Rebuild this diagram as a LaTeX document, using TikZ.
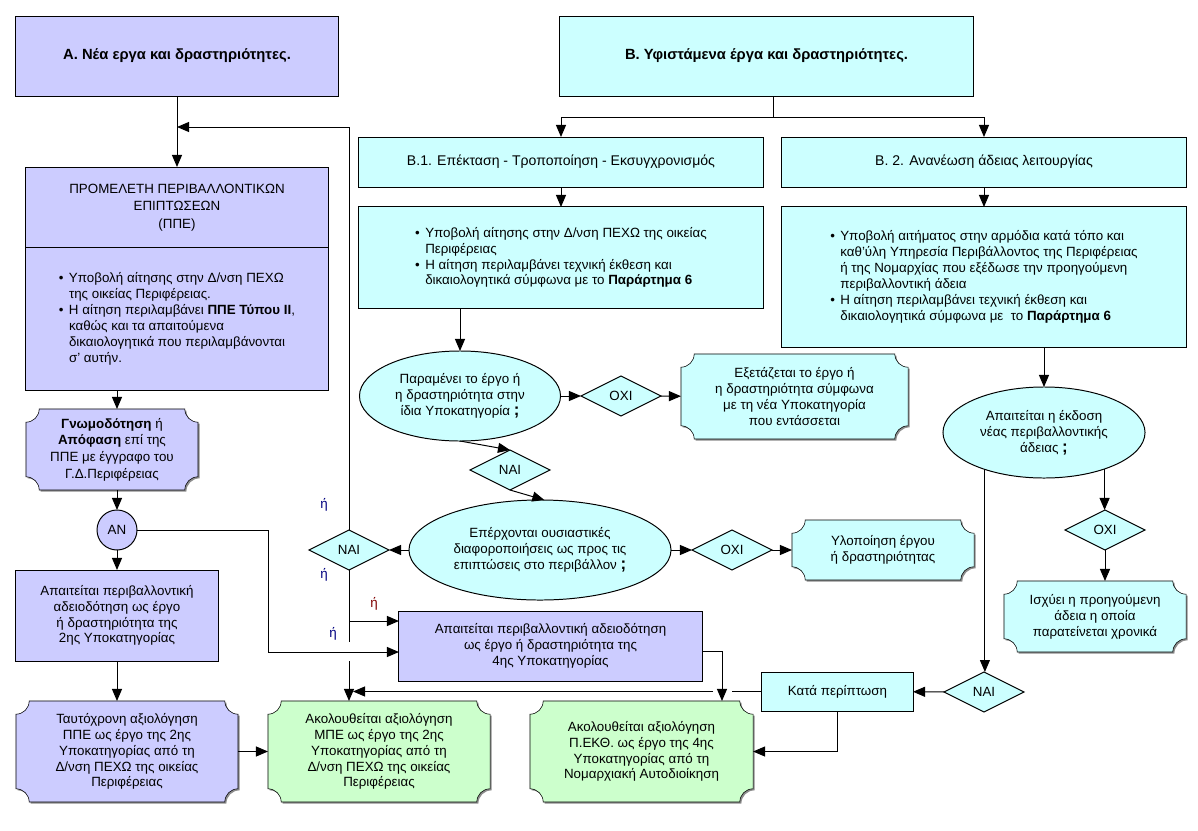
\documentclass[tikz,border=0pt]{standalone}
\usepackage{fontspec}
\setmainfont{Liberation Sans}
\usetikzlibrary{arrows.meta,calc,shapes.geometric,backgrounds}

\definecolor{lav}{HTML}{CCCCFF}
\definecolor{aqua}{HTML}{CCFFFF}
\definecolor{mint}{HTML}{CCFFCC}
\definecolor{navy}{HTML}{000080}
\definecolor{maroon}{HTML}{800000}

\newcommand{\bodyfont}{\fontsize{9.5}{11.3}\selectfont}
\newcommand{\headfont}{\fontsize{10.5}{12.5}\selectfont\bfseries}
\newcommand{\blt}{\makebox[0.75em][l]{\textbullet}}
\newcommand{\ind}{\hspace*{0.75em}}
\newcommand{\qm}{{\fontsize{12}{11.3}\selectfont\bfseries ;}}

% plaque = box with concave corners, drawn behind a node
\newcommand{\plr}{0.33cm}
\newcommand{\plaqueshape}[3]{%
  \path[#3] ($(#1.north west)+(\plr,0)+#2$) -- ($(#1.north east)+(-\plr,0)+#2$)
    arc[start angle=180, end angle=270, radius=\plr]
    -- ($(#1.south east)+(0,\plr)+#2$)
    arc[start angle=90, end angle=180, radius=\plr]
    -- ($(#1.south west)+(\plr,0)+#2$)
    arc[start angle=0, end angle=90, radius=\plr]
    -- ($(#1.north west)+(0,-\plr)+#2$)
    arc[start angle=270, end angle=360, radius=\plr] -- cycle;}
\newcommand{\plaque}[2]{%
  \plaqueshape{#1}{(1.1pt,-1.1pt)}{fill=black!45}%
  \plaqueshape{#1}{(0pt,0pt)}{draw, fill=#2}}

\begin{document}
\begin{tikzpicture}[x=0.025cm, y=-0.025cm, line width=0.7pt,
    >={Triangle[length=3mm, width=2.5mm]}, font=\bodyfont,
    rectbox/.style={draw, rectangle, align=center, inner sep=2pt, outer sep=0pt},
    plaquebox/.style={rectangle, align=center, inner sep=2pt, outer sep=0pt},
    askoval/.style={ellipse, draw, fill=aqua, align=center, inner sep=0pt, outer sep=0pt},
    choice/.style={diamond, draw, fill=aqua, aspect=2, minimum width=2cm,
      minimum height=1cm, inner sep=0pt, outer sep=0pt},
    orlabel/.style={text=navy, inner sep=1pt}]

    \useasboundingbox (0,0) rectangle (1198,830);

    % Headings
    \node[rectbox, fill=lav, minimum width=8.05cm, minimum height=2cm, font=\headfont]
      (a) at (177,56) {Α. Νέα εργα και δραστηριότητες.};
    \node[rectbox, fill=aqua, minimum width=10.325cm, minimum height=2cm, font=\headfont]
      (b) at (766.5,56) {Β. Υφιστάμενα έργα και δραστηριότητες.};

    % Branch A
    \node[rectbox, fill=lav, minimum width=7.55cm, minimum height=2.025cm,
      font=\fontsize{9.5}{12.4}\selectfont] (ppeT) at (177,207.5)
      {ΠΡΟΜΕΛΕΤΗ ΠΕΡΙΒΑΛΛΟΝΤΙΚΩΝ\\ΕΠΙΠΤΩΣΕΩΝ\\(ΠΠΕ)};
    \node[rectbox, fill=lav, minimum width=7.55cm, minimum height=3.55cm, align=left,
      font=\fontsize{9.5}{11.4}\selectfont] (ppeB) at (177,319)
      {\blt Υποβολή αίτησης στην Δ/νση ΠΕΧΩ\\
       \ind της οικείας Περιφέρειας.\\
       \blt Η αίτηση περιλαμβάνει \textbf{ΠΠΕ Τύπου II},\\
       \ind καθώς και τα απαιτούμενα\\
       \ind δικαιολογητικά που περιλαμβάνονται\\
       \ind σ’ αυτήν.};
    \node[plaquebox, minimum width=4.3cm, minimum height=2.025cm,
      font=\fontsize{9.5}{11.8}\selectfont] (gnom) at (112,449.5)
      {\textbf{Γνωμοδότηση} ή\\\textbf{Απόφαση} επί της\\ΠΠΕ με έγγραφο του\\Γ.Δ.Περιφέρειας};
    \node[circle, draw, fill=lav, minimum size=1cm, inner sep=0pt, outer sep=0pt]
      (an) at (117,530) {ΑΝ};
    \node[rectbox, fill=lav, minimum width=5.05cm, minimum height=2.275cm]
      (p2) at (117,615.5)
      {Απαιτείται περιβαλλοντική\\αδειοδότηση ως έργο\\ή δραστηριότητα της\\2ης Υποκατηγορίας};
    \node[plaquebox, minimum width=5.55cm, minimum height=2.525cm] (t2) at (127,751.5)
      {Ταυτόχρονη αξιολόγηση\\ΠΠΕ ως έργο της 2ης\\Υποκατηγορίας από τη\\Δ/νση ΠΕΧΩ της οικείας\\Περιφέρειας};
    \node[plaquebox, minimum width=5.55cm, minimum height=2.525cm] (g1) at (379,751.5)
      {Ακολουθείται αξιολόγηση\\ΜΠΕ ως έργο της 2ης\\Υποκατηγορίας από τη\\Δ/νση ΠΕΧΩ της οικείας\\Περιφέρειας};
    \node[rectbox, fill=lav, minimum width=7.575cm, minimum height=1.75cm]
      (p4) at (550.5,646)
      {Απαιτείται περιβαλλοντική αδειοδότηση\\ως έργο ή δραστηριότητα της\\4ης Υποκατηγορίας};
    \node[plaquebox, minimum width=5.575cm, minimum height=2.525cm] (g2) at (641.5,751.5)
      {Ακολουθείται αξιολόγηση\\Π.ΕΚΘ. ως έργο της 4ης\\Υποκατηγορίας από τη\\Νομαρχιακή Αυτοδιοίκηση};

    % Branch B.1
    \node[rectbox, fill=aqua, minimum width=10.1cm, minimum height=1.25cm,
      font=\fontsize{10}{12}\selectfont] (b1) at (561,162)
      {Β.1. Επέκταση - Τροποποίηση - Εκσυγχρονισμός};
    \node[rectbox, fill=aqua, minimum width=10.1cm, minimum height=2.525cm, align=left]
      (b1d) at (561,257.5)
      {\blt Υποβολή αίτησης στην Δ/νση ΠΕΧΩ της οικείας\\
       \ind Περιφέρειας\\
       \blt Η αίτηση περιλαμβάνει τεχνική έκθεση και\\
       \ind δικαιολογητικά σύμφωνα με το \textbf{Παράρτημα 6}};
    \node[askoval, minimum width=5.025cm, minimum height=2.25cm] (e1) at (460,396)
      {Παραμένει το έργο ή\\η δραστηριότητα στην\\ίδια Υποκατηγορία \qm};
    \node[choice] (oxi1) at (621,396) {ΟΧΙ};
    \node[plaquebox, minimum width=5.675cm, minimum height=2.125cm] (exet) at (794.5,396.5)
      {Εξετάζεται το έργο ή\\η δραστηριότητα σύμφωνα\\με τη νέα Υποκατηγορία\\που εντάσσεται};
    \node[choice] (naiM) at (510,470) {ΝΑΙ};
    \node[askoval, minimum width=6.55cm, minimum height=2.5cm] (e2) at (540,550)
      {Επέρχονται ουσιαστικές\\διαφοροποιήσεις ως προς τις\\επιπτώσεις στο περιβάλλον \qm};
    \node[choice] (naiL) at (349,550) {ΝΑΙ};
    \node[choice] (oxi2) at (732,550) {ΟΧΙ};
    \node[plaquebox, minimum width=4.55cm, minimum height=1.5cm] (ylop) at (883,550)
      {Υλοποίηση έργου\\ή δραστηριότητας};

    % Branch B.2
    \node[rectbox, fill=aqua, minimum width=10.1cm, minimum height=1.25cm,
      font=\fontsize{10}{12}\selectfont] (b2) at (984,162)
      {Β. 2. Ανανέωση άδειας λειτουργίας};
    \node[rectbox, fill=aqua, minimum width=10.1cm, minimum height=3.5cm, align=left]
      (b2d) at (984,277)
      {\blt Υποβολή αιτήματος στην αρμόδια κατά τόπο και\\
       \ind καθ’ύλη Υπηρεσία Περιβάλλοντος της Περιφέρειας\\
       \ind ή της Νομαρχίας που εξέδωσε την προηγούμενη\\
       \ind περιβαλλοντική άδεια\\
       \blt Η αίτηση περιλαμβάνει τεχνική έκθεση και\\
       \ind δικαιολογητικά σύμφωνα με\ \ το \textbf{Παράρτημα 6}};
    \node[askoval, minimum width=5.05cm, minimum height=2.275cm] (e3) at (1044,432.5)
      {Απαιτείται η έκδοση\\νέας περιβαλλοντικής\\άδειας \qm};
    \node[choice] (oxi3) at (1105,530) {ΟΧΙ};
    \node[plaquebox, minimum width=4.55cm, minimum height=1.775cm] (isx) at (1095,616.5)
      {Ισχύει η προηγούμενη\\άδεια η οποία\\παρατείνεται χρονικά};
    \node[choice] (naiR) at (984,692) {ΝΑΙ};
    \node[rectbox, fill=aqua, minimum width=3.775cm, minimum height=0.975cm]
      (kata) at (837.5,691.5) {Κατά περίπτωση};

    % "or" labels
    \node[orlabel] (or1) at (324,505) {ή};
    \node[orlabel] (or2) at (324,575) {ή};
    \node[orlabel, text=maroon] (or3) at (374,604) {ή};
    \node[orlabel] (or4) at (333,634) {ή};

    % Plaques behind their text
    \begin{scope}[on background layer]
      \plaque{gnom}{lav}
      \plaque{t2}{lav}
      \plaque{g1}{mint}
      \plaque{g2}{mint}
      \plaque{exet}{aqua}
      \plaque{ylop}{aqua}
      \plaque{isx}{aqua}
    \end{scope}

    % Bends and gaps
    \coordinate (ret) at (177,127);
    \coordinate (bsplit) at (773,117);
    \coordinate (anTurn) at (268,652);
    \coordinate (brA) at (349,621);
    \coordinate (gapT) at (349,642);
    \coordinate (gapB) at (349,661);
    \coordinate (p4turn) at (722,651);
    \coordinate (hopR) at (732,691.5);
    \coordinate (hopL) at (713,691.5);
    \coordinate (hopEnd) at (353,691.5);

    % Arrows, branch A
    \draw[->] (a) -- (ppeT);
    \draw[->] (naiL.north) |- (ret);
    \draw[->] (ppeB.south -| an) -- (an |- gnom.north);
    \draw[->] (gnom.south -| an) -- (an.north);
    \draw[->] (an) -- (p2);
    \draw[->] (p2.south) -- (p2.south |- t2.north);
    \draw[->] (t2) -- (g1);
    \draw[->] (an.east) -| (anTurn) -- (anTurn -| p4.west);
    \draw (naiL.south) -- (gapT);
    \draw[->] (brA) -- (brA -| p4.west);
    \draw[->] (gapB) -- (gapB |- g1.north);
    \draw[->] (p4.east |- p4turn) -- (p4turn) -- (p4turn |- g2.north);

    % Arrows, branch B.1
    \draw (b.south -| bsplit) -- (bsplit);
    \draw[->] (bsplit) -| (b1);
    \draw[->] (bsplit) -| (b2);
    \draw[->] (b1) -- (b1d);
    \draw[->] (e1 |- b1d.south) -- (e1.north);
    \draw[->] (e1) -- (oxi1);
    \draw[->] (oxi1) -- (exet);
    \draw[->] (e1.south) -- (naiM.north);
    \draw[->] (naiM.south) -- (e2.85);
    \draw[->] (e2) -- (naiL);
    \draw[->] (e2) -- (oxi2);
    \draw[->] (oxi2) -- (ylop);

    % Arrows, branch B.2
    \draw[->] (b2) -- (b2d);
    \draw[->] (e3 |- b2d.south) -- (e3.north);
    \draw[->] (e3.329) -- (e3.329 |- oxi3.north);
    \draw[->] (oxi3.south) -- (oxi3.south |- isx.north);
    \draw[->] (e3.212) -- (e3.212 |- naiR.north);
    \draw[->] (naiR) -- (kata);
    \draw[->] (kata.south) |- (g2.east);
    \draw (kata.west) -- (hopR);
    \draw[->] (hopL) -- (hopEnd);

\end{tikzpicture}
\end{document}
